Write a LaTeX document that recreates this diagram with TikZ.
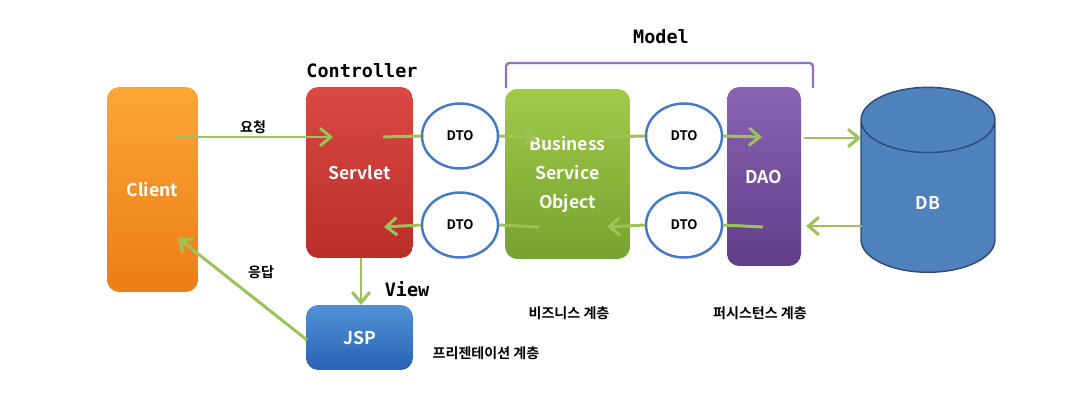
\documentclass[tikz,border=0pt]{standalone}
\usepackage{fontspec}
\setmainfont{Noto Sans CJK KR}[BoldFont={Noto Sans CJK KR Bold}]
\setmonofont{DejaVu Sans Mono}
\usepackage{tikz}
\usetikzlibrary{shapes.geometric,arrows.meta}
\definecolor{flow}{RGB}{155,195,90}
\definecolor{dtoline}{RGB}{70,120,200}
\definecolor{bracket}{RGB}{150,110,190}
\definecolor{dbfill}{RGB}{79,129,189}
\definecolor{dbline}{RGB}{45,75,115}

\begin{document}
\begin{tikzpicture}[x=0.02cm,y=-0.02cm,>={Straight Barb[length=6pt,width=10pt]}]
        \useasboundingbox (0,0) rectangle (1089,402);
        \tikzstyle{every node} = [text=white, font=\fontsize{10}{16.5}\selectfont\bfseries, align=center];
        \tikzstyle{box} = [rectangle, rounded corners=7pt, inner sep=0pt];
        \tikzstyle{dto} = [ellipse, draw=dtoline, line width=1.4pt, fill=white, text=black,
                font=\fontsize{7.5}{9}\selectfont\bfseries, minimum width=1.52cm, minimum height=1.3cm];
        \node[box, top color={rgb,255:red,252;green,165;blue,55}, bottom color={rgb,255:red,236;green,126;blue,22},
                minimum width=1.82cm, minimum height=4.1cm] (client) at (152.5,189.5) {Client};
        \node[box, top color={rgb,255:red,218;green,72;blue,66}, bottom color={rgb,255:red,186;green,46;blue,42},
                minimum width=2.14cm, minimum height=3.42cm] (servlet) at (359.5,172.5) {Servlet};
        \node[box, top color={rgb,255:red,82;green,145;blue,215}, bottom color={rgb,255:red,40;green,98;blue,178},
                minimum width=2.14cm, minimum height=1.3cm] (jsp) at (359.5,337.5) {JSP};
        \node[box, top color={rgb,255:red,160;green,202;blue,72}, bottom color={rgb,255:red,118;green,162;blue,48},
                minimum width=2.5cm, minimum height=3.4cm] (bso) at (567.5,174) {Business\\Service\\Object};
        \node[box, top color={rgb,255:red,138;green,98;blue,178}, bottom color={rgb,255:red,98;green,62;blue,136},
                minimum width=1.48cm, minimum height=3.58cm] (dao) at (764,176.5) {DAO};
        \node[cylinder, shape border rotate=90, aspect=1.8, draw=dbline, line width=0.8pt, fill=dbfill,
                minimum width=2.68cm, minimum height=3.7cm, anchor=bottom] (db) at (928,273) {DB};
        \node[dto] (d1) at (460,136) {DTO};
        \node[dto] (d2) at (460,225) {DTO};
        \node[dto] (d3) at (684,136) {DTO};
        \node[dto] (d4) at (684,225) {DTO};
        % model bracket
        \draw[bracket, line width=1.3pt, rounded corners=2pt] (506,88) -- (506,63) -- (813,63) -- (813,88);
        \tikzstyle{every node} = [font=\fontsize{10.5}{12}\selectfont\ttfamily\bfseries]
        \node (model) at (661,37) {Model};
        \node (ctrl) at (362,71) {Controller};
        \node (view) at (407,289) {View};
        \tikzstyle{every node} = [font=\fontsize{8}{10}\selectfont\bfseries]
        \node (req) at (253,127) {요청};
        \node (res) at (261,272) {응답};
        \node (biz) at (569,313) {비즈니스 계층};
        \node (per) at (760,313) {퍼시스턴스 계층};
        \node (pre) at (486,353) {프리젠테이션 계층};
        % end points inside the boxes
        \coordinate (c1) at (176,137);
        \coordinate (c2) at (178,238);
        \coordinate (s1) at (333,137);
        \coordinate (s2) at (383,137);
        \coordinate (s3) at (384,227);
        \coordinate (s4) at (361,258);
        \coordinate (j1) at (361,305);
        \coordinate (j2) at (307,340);
        \coordinate (b1) at (537,137);
        \coordinate (b2) at (604,137);
        \coordinate (b3) at (607,227);
        \coordinate (b4) at (539,227);
        \coordinate (a1) at (762,137);
        \coordinate (a2) at (804,138);
        \coordinate (a3) at (806,226);
        \coordinate (a4) at (763,227);
        \coordinate (e1) at (861,138);
        \coordinate (e2) at (862,226);
        \path[flow, line width=1.7pt]
        (c1) edge[->] (s1)
        (s2) edge (d1.west)
        (d1.east) edge[->] (b1)
        (b2) edge (d3.west)
        (d3.east) edge[->] (a1)
        (a2) edge[->] (e1);
        \path[flow, line width=1.7pt]
        (e2) edge[->] (a3)
        (a4) edge (d4.east)
        (d4.west) edge[->] (b3)
        (b4) edge (d2.east)
        (d2.west) edge[->] (s3);
        \path[flow, line width=1.7pt]
        (s4) edge[->] (j1)
        (j2) edge[->] (c2);
\end{tikzpicture}
\end{document}
